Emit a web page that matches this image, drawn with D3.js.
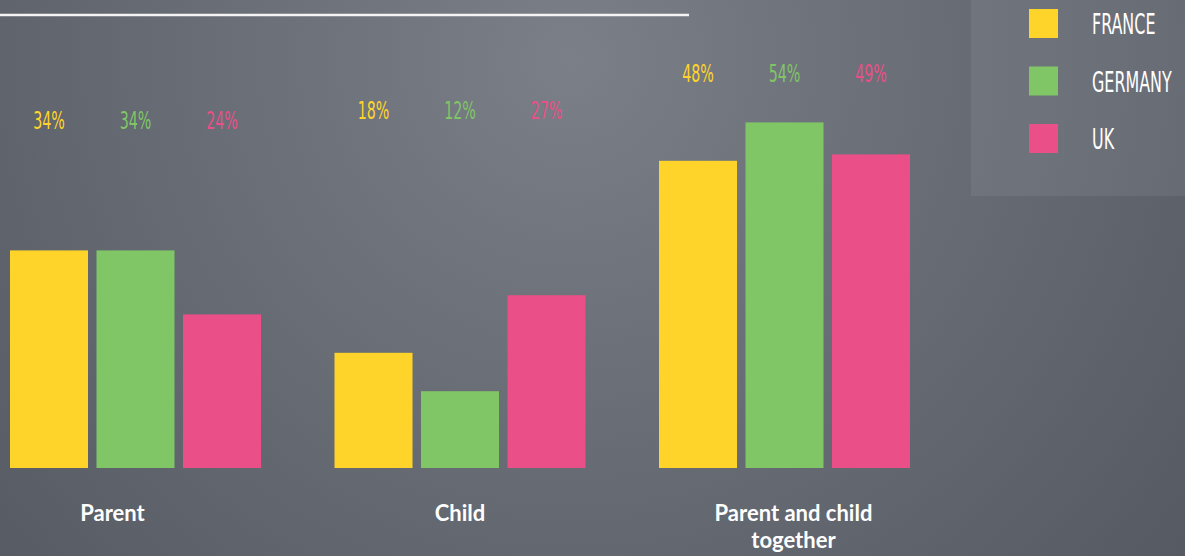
<!DOCTYPE html>
<html>
<head>
<meta charset="utf-8">
<script src="https://cdn.jsdelivr.net/npm/d3@7"></script>
<style>
  html, body { margin: 0; padding: 0; overflow: hidden; }
  body { width: 1185px; height: 556px; }
  .value { font-family: "DejaVu Sans Condensed", "Liberation Sans Narrow", sans-serif; font-size: 24px; }
  .legend-label { font-family: "DejaVu Sans Condensed", "Liberation Sans Narrow", sans-serif; font-size: 29px; fill: #fff; }
  .cat { font-family: Lato, "Open Sans", sans-serif; font-weight: 700; font-size: 22px; fill: #fff; }
</style>
</head>
<body>
<div id="chart"></div>
<script>
const categories = ['Parent', 'Child', 'Parent and child together'];
const series = ['FRANCE', 'GERMANY', 'UK'];
const france  = [34, 18, 48];
const germany = [34, 12, 54];
const uk      = [24, 27, 49];
const valuesBySeries = [france, germany, uk];

const COLORS = ['#ffd42a', '#80c566', '#ea4f87'];

// Layout: value labels sit at a fixed height per group, not on the bar tops.
const LABEL_BASELINE = [129, 119, 82];
const CAT_OFFSET = [-23, 0, 9];

const width = 1185, height = 556;

const svg = d3.select('#chart').append('svg')
  .attr('width', width)
  .attr('height', height);

// Background radial gradient
const defs = svg.append('defs');
const grad = defs.append('radialGradient')
  .attr('id', 'bg')
  .attr('gradientUnits', 'userSpaceOnUse')
  .attr('cx', 570).attr('cy', 60).attr('r', 780);
grad.append('stop').attr('offset', '0%').attr('stop-color', '#7b7f87');
grad.append('stop').attr('offset', '55%').attr('stop-color', '#656a73');
grad.append('stop').attr('offset', '100%').attr('stop-color', '#555a63');

svg.append('rect')
  .attr('width', width).attr('height', height)
  .attr('fill', 'url(#bg)');

// Top rule
svg.append('line')
  .attr('x1', 0).attr('x2', 689)
  .attr('y1', 15).attr('y2', 15)
  .attr('stroke', '#f4f4f4')
  .attr('stroke-width', 2.6);

const x0 = d3.scaleBand()
  .domain(categories)
  .range([10, 910])
  .paddingInner(0.2265)
  .paddingOuter(0);

const x1 = d3.scaleBand()
  .domain(series)
  .range([0, x0.bandwidth()])
  .paddingInner(0.098)
  .paddingOuter(0);

const y = d3.scaleLinear()
  .domain([0, 60])
  .range([468, 84]);

const rows = [];
categories.forEach((c, ci) => {
  series.forEach((s, si) => {
    rows.push({ cat: c, ci, series: s, si, value: valuesBySeries[si][ci] });
  });
});

const bars = svg.append('g');
bars.selectAll('rect')
  .data(rows)
  .enter().append('rect')
  .attr('x', d => x0(d.cat) + x1(d.series))
  .attr('y', d => y(d.value))
  .attr('width', x1.bandwidth())
  .attr('height', d => y(0) - y(d.value))
  .attr('fill', d => COLORS[d.si]);

// Value labels (condensed look via horizontal squeeze)
const labels = svg.append('g');
labels.selectAll('text')
  .data(rows)
  .enter().append('text')
  .attr('class', 'value')
  .attr('text-anchor', 'middle')
  .attr('fill', d => COLORS[d.si])
  .attr('transform', d => {
    const cx = x0(d.cat) + x1(d.series) + x1.bandwidth() / 2;
    return `translate(${cx},${LABEL_BASELINE[d.ci]}) scale(0.66,1)`;
  })
  .text(d => d.value + '%');

// Category labels
const catG = svg.append('g');
const catLines = [['Parent'], ['Child'], ['Parent and child', 'together']];
categories.forEach((c, ci) => {
  const cx = x0(c) + x0.bandwidth() / 2 + CAT_OFFSET[ci];
  const t = catG.append('text')
    .attr('class', 'cat')
    .attr('text-anchor', 'middle')
    .attr('x', cx)
    .attr('y', 521);
  catLines[ci].forEach((line, li) => {
    t.append('tspan')
      .attr('x', cx)
      .attr('dy', li === 0 ? 0 : 27)
      .text(line);
  });
});

// Legend
const legend = svg.append('g');
legend.append('rect')
  .attr('x', 971).attr('y', -2)
  .attr('width', 230).attr('height', 198)
  .attr('fill', '#ffffff')
  .attr('fill-opacity', 0.07);

const ly = d3.scalePoint()
  .domain(series)
  .range([23.5, 138.5]);

const item = legend.selectAll('g.item')
  .data(series)
  .enter().append('g')
  .attr('class', 'item');

item.append('rect')
  .attr('x', 1029)
  .attr('y', d => ly(d) - 14.5)
  .attr('width', 29).attr('height', 29)
  .attr('fill', (d, i) => COLORS[i]);

item.append('text')
  .attr('class', 'legend-label')
  .attr('transform', d => `translate(1092,${ly(d) + 10.5}) scale(0.61,1)`)
  .text(d => d);
</script>
</body>
</html>
